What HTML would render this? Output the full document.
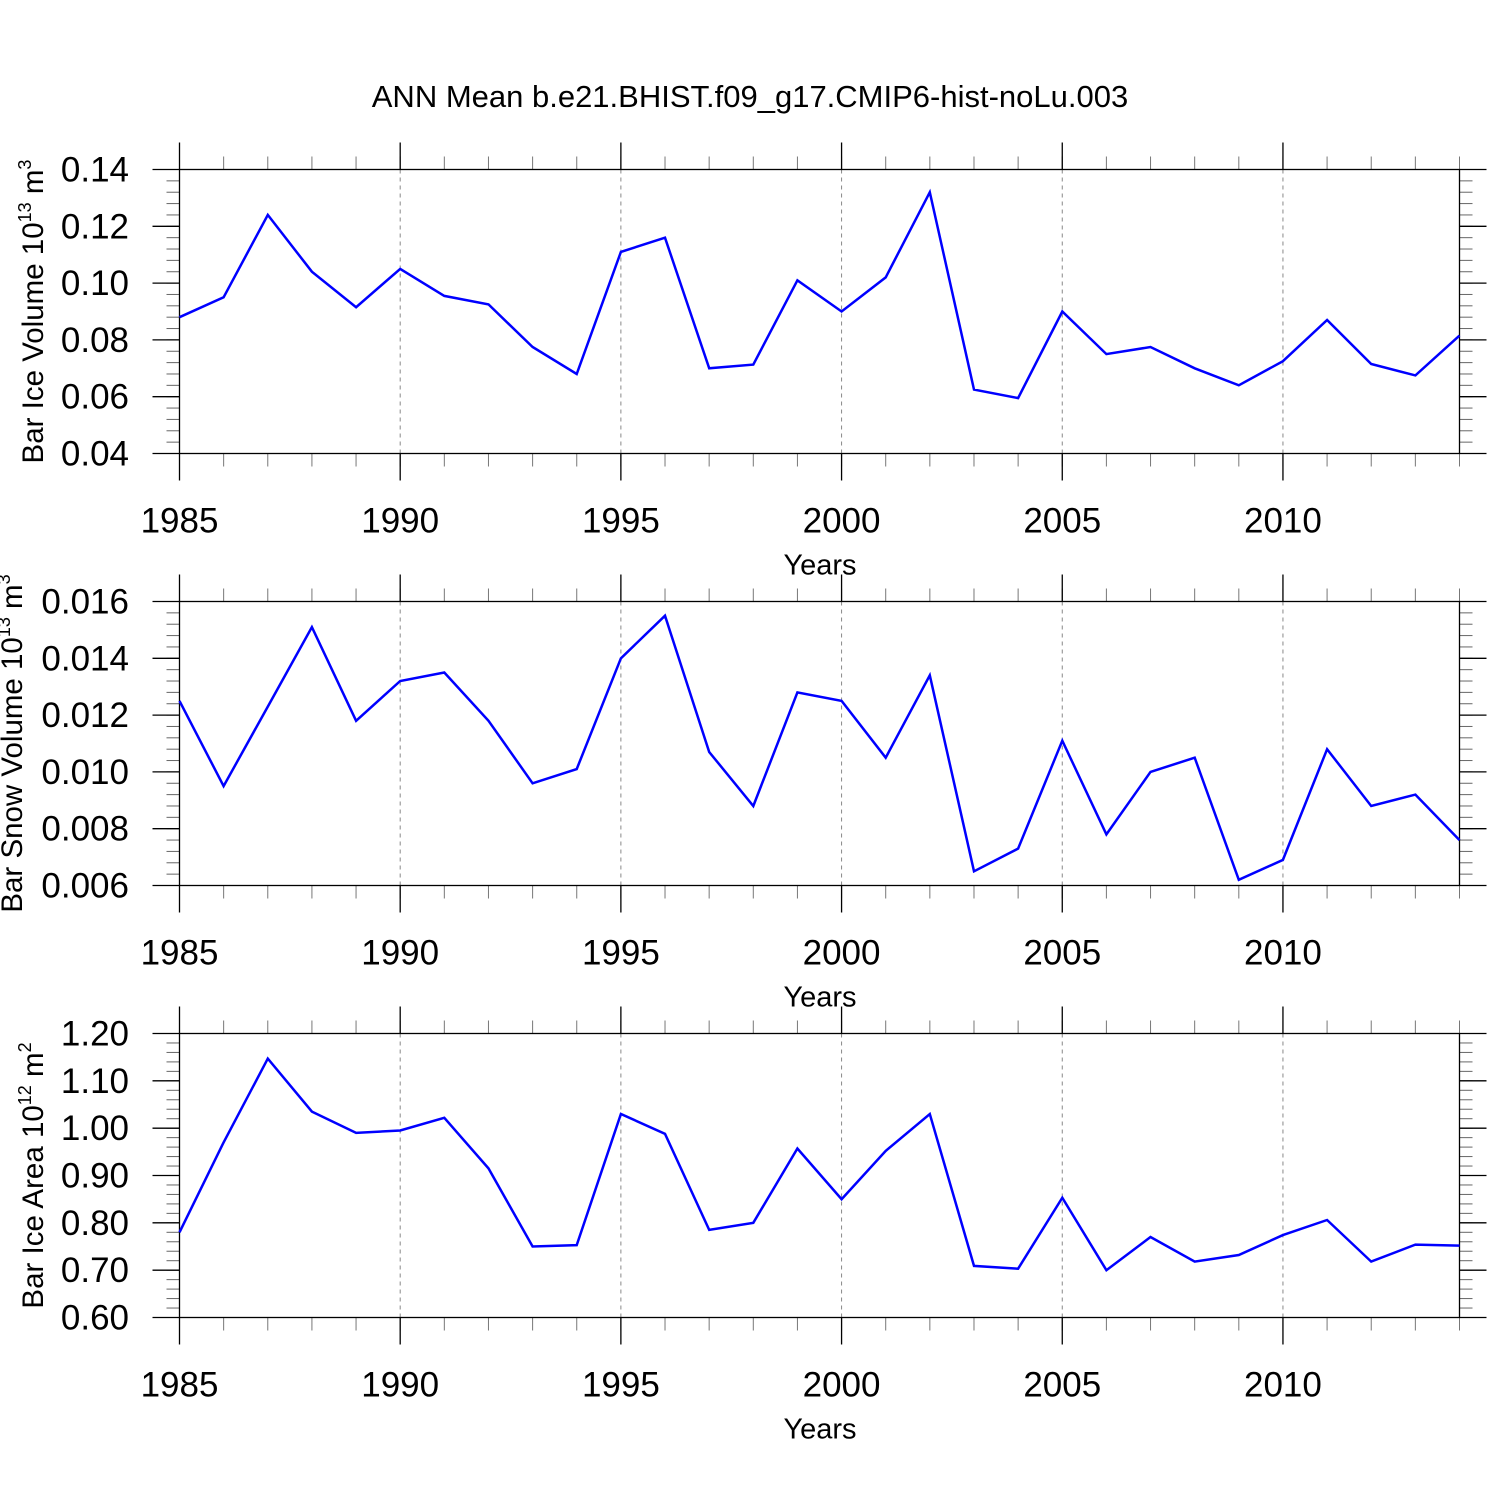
<!DOCTYPE html>
<html><head><meta charset="utf-8">
<style>
html,body{margin:0;padding:0;background:#fff;}
svg{display:block;font-family:"Liberation Sans",Arial,sans-serif;}
</style></head>
<body>
<svg id="chart" width="1500" height="1500" viewBox="0 0 1500 1500">
<text x="750" y="107" font-size="31" text-anchor="middle">ANN Mean b.e21.BHIST.f09_g17.CMIP6-hist-noLu.003</text>
</svg>
<script>
const years = [1985,1986,1987,1988,1989,1990,1991,1992,1993,1994,1995,1996,1997,1998,1999,2000,2001,2002,2003,2004,2005,2006,2007,2008,2009,2010,2011,2012,2013,2014];
const iceVolume = [0.088,0.095,0.124,0.104,0.0915,0.105,0.0955,0.0925,0.0775,0.068,0.111,0.116,0.070,0.0713,0.101,0.090,0.102,0.132,0.0625,0.0595,0.090,0.075,0.0775,0.070,0.064,0.0725,0.087,0.0715,0.0675,0.0815];
const snowVolume = [0.0125,0.0095,0.0123,0.0151,0.0118,0.0132,0.0135,0.0118,0.0096,0.0101,0.0140,0.0155,0.0107,0.0088,0.0128,0.0125,0.0105,0.0134,0.0065,0.0073,0.0111,0.0078,0.0100,0.0105,0.0062,0.0069,0.0108,0.0088,0.0092,0.0076];
const iceArea = [0.78,0.97,1.147,1.035,0.99,0.995,1.022,0.915,0.75,0.753,1.03,0.988,0.785,0.80,0.957,0.85,0.952,1.03,0.709,0.703,0.853,0.70,0.77,0.718,0.732,0.774,0.806,0.718,0.754,0.752];
const xTickLabels = ["1985","1990","1995","2000","2005","2010"];
const iceVolTicks = ["0.04","0.06","0.08","0.10","0.12","0.14"];
const snowVolTicks = ["0.006","0.008","0.010","0.012","0.014","0.016"];
const iceAreaTicks = ["0.60","0.70","0.80","0.90","1.00","1.10","1.20"];

const NS="http://www.w3.org/2000/svg";
const svg=document.getElementById('chart');
function mk(tag,attrs,parent){const e=document.createElementNS(NS,tag);for(const k in attrs)e.setAttribute(k,attrs[k]);(parent||svg).appendChild(e);return e;}
const X0=179.5,X1=1459.5;
function xs(yr){return X0+(yr-1985)/(2014-1985)*(X1-X0);}

function panel(top,vals,ticks,minorStep,titleMain,exp,unitLetter,name,titleX){
  const g=mk('g',{});
  
  
  const bot=top+284;
  const ymin=parseFloat(ticks[0]),ymax=parseFloat(ticks[ticks.length-1]);
  const ys=v=>bot-(v-ymin)/(ymax-ymin)*(bot-top);
  xTickLabels.forEach(t=>{const yr=+t;if(yr===1985)return;const x=xs(yr);
    const l=mk('line',{x1:x,x2:x,y1:top,y2:bot,stroke:'#888','stroke-width':1,'stroke-dasharray':'4,4'},g);
    });
  const n=Math.round((ymax-ymin)/minorStep);
  for(let i=0;i<=n;i++){const y=bot-i*(bot-top)/n;
    mk('line',{x1:X0-13,x2:X0,y1:y,y2:y,stroke:'#666','stroke-width':1},g);
    mk('line',{x1:X1,x2:X1+13,y1:y,y2:y,stroke:'#666','stroke-width':1},g);}
  ticks.forEach(t=>{const y=ys(parseFloat(t));
    mk('line',{x1:X0-27,x2:X0,y1:y,y2:y,stroke:'#000','stroke-width':1.3},g);
    mk('line',{x1:X1,x2:X1+27,y1:y,y2:y,stroke:'#000','stroke-width':1.3},g);
    const tx=mk('text',{x:129,y:y+12,'font-size':35,'text-anchor':'end'},g);tx.textContent=t;
    });
  years.forEach(yr=>{const x=xs(yr);
    mk('line',{x1:x,x2:x,y1:top-13,y2:top,stroke:'#777','stroke-width':1},g);
    mk('line',{x1:x,x2:x,y1:bot,y2:bot+13,stroke:'#777','stroke-width':1},g);});
  xTickLabels.forEach(t=>{const x=xs(+t);
    mk('line',{x1:x,x2:x,y1:top-27,y2:top,stroke:'#000','stroke-width':1.3},g);
    mk('line',{x1:x,x2:x,y1:bot,y2:bot+27,stroke:'#000','stroke-width':1.3},g);
    const tx=mk('text',{x:x,y:bot+79,'font-size':35,'text-anchor':'middle'},g);tx.textContent=t;
    });
  mk('rect',{x:X0,y:top,width:X1-X0,height:bot-top,fill:'none',stroke:'#000','stroke-width':1.3},g);
  const pts=vals.map((v,i)=>xs(years[i]).toFixed(1)+','+ys(v).toFixed(1)).join(' ');
  const pl=mk('polyline',{points:pts,fill:'none',stroke:'#0000ff','stroke-width':2.5,'stroke-linejoin':'miter'},g);
  
  const xt=mk('text',{x:820,y:bot+121,'font-size':29,'text-anchor':'middle'},g);xt.textContent='Years';
  
  const cy=(top+bot)/2;
  const yt=mk('text',{x:0,y:0,'font-size':29.5,'text-anchor':'middle',transform:`translate(${titleX},${cy}) rotate(-90)`},g);
  
  const s1=mk('tspan',{},yt);s1.textContent=titleMain+' 10';
  const s2=mk('tspan',{'font-size':18,dy:-12},yt);s2.textContent=exp;
  const s3=mk('tspan',{dy:12},yt);s3.textContent=' m';
  const s4=mk('tspan',{'font-size':18,dy:-12},yt);s4.textContent=unitLetter;
}
panel(169.5,iceVolume,iceVolTicks,0.004,'Bar Ice Volume','13','3','panel-ice-volume',43);
panel(601.5,snowVolume,snowVolTicks,0.0004,'Bar Snow Volume','13','3','panel-snow-volume',22);
panel(1033.5,iceArea,iceAreaTicks,0.02,'Bar Ice Area','12','2','panel-ice-area',43);
</script>
</body></html>
